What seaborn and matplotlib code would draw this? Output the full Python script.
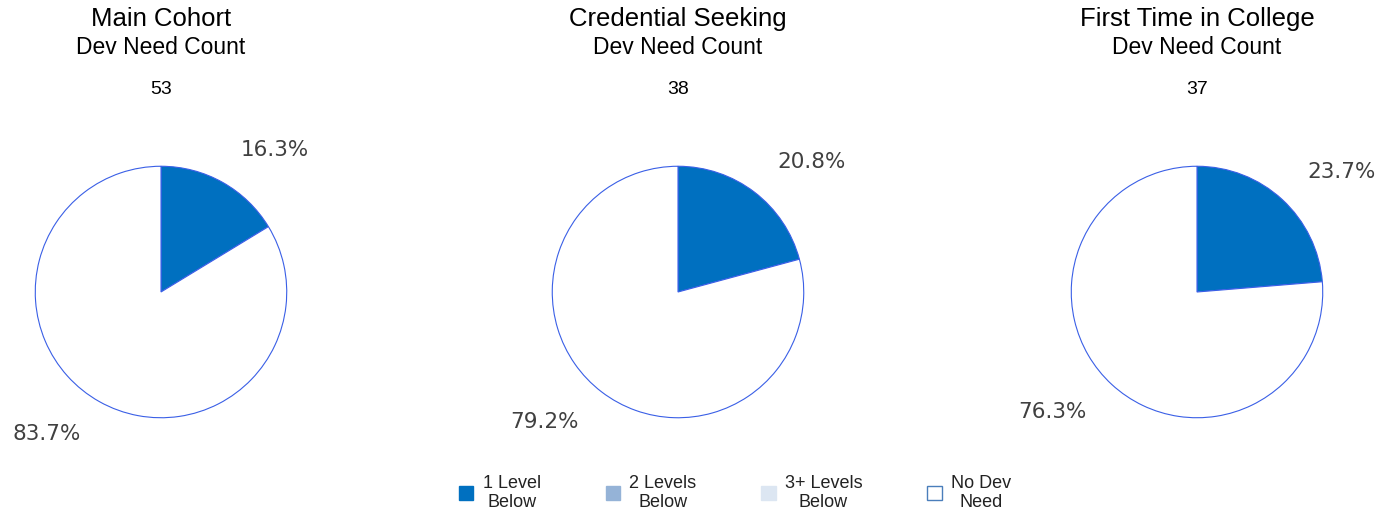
import matplotlib
matplotlib.use('Agg')
import matplotlib.pyplot as plt
import seaborn as sns
from matplotlib.patches import Patch

# Data
cohorts = ['Main Cohort', 'Credential Seeking', 'First Time in College']
counts = [53, 38, 37]
one_level = [16.3, 20.8, 23.7]
no_need = [83.7, 79.2, 76.3]
legend_labels = ['1 Level\nBelow', '2 Levels\nBelow', '3+ Levels\nBelow', 'No Dev\nNeed']
legend_colors = ['#0070C0', '#95B3D7', '#DCE6F2', 'white']

sns.set_theme(style='white')
plt.rcParams['font.family'] = ['Liberation Sans', 'DejaVu Sans']

fig = plt.figure(figsize=(13.93, 5.19), dpi=100)

centers_px = [161, 678, 1197]
W, H = 1393, 519
r = 127

for i, name in enumerate(cohorts):
    cx = centers_px[i]
    ax = fig.add_axes([(cx - r) / W, (H - 292 - r) / H, 2 * r / W, 2 * r / H])
    vals = [one_level[i], no_need[i]]
    wedges, texts = ax.pie(
        vals,
        labels=[f'{v:.1f}%' for v in vals],
        colors=['#0070C0', 'white'],
        startangle=90,
        counterclock=False,
        labeldistance=1.3,
        wedgeprops={'edgecolor': '#3a5fe6', 'linewidth': 0.8},
        textprops={'fontsize': 15.5, 'color': '#404040', 'family': 'DejaVu Sans'},
    )
    ax.set_xlim(-1.01, 1.01)
    ax.set_ylim(-1.01, 1.01)
    ax.set_aspect('equal')

    fig.text(cx / W, 1 - 19 / H, name, ha='center', va='center', fontsize=18.5, color='black')
    fig.text(cx / W, 1 - 48 / H, 'Dev Need Count', ha='center', va='center', fontsize=16.5, color='black')
    fig.text(cx / W, 1 - 89 / H, str(counts[i]), ha='center', va='center', fontsize=14, color='black')

handles = [Patch(facecolor=c, edgecolor='#4a7ebb' if c == 'white' else c) for c in legend_colors]
leg = fig.legend(handles, legend_labels, loc='center', bbox_to_anchor=(735 / W, 1 - 493 / H),
                 ncol=4, frameon=False, fontsize=13, handlelength=0.8, handleheight=0.8,
                 handletextpad=0.5, columnspacing=3.6, labelspacing=0)
for t in leg.get_texts():
    t.set_multialignment('center')
    t.set_color('#222222')

fig.savefig('out.png', dpi=100)
